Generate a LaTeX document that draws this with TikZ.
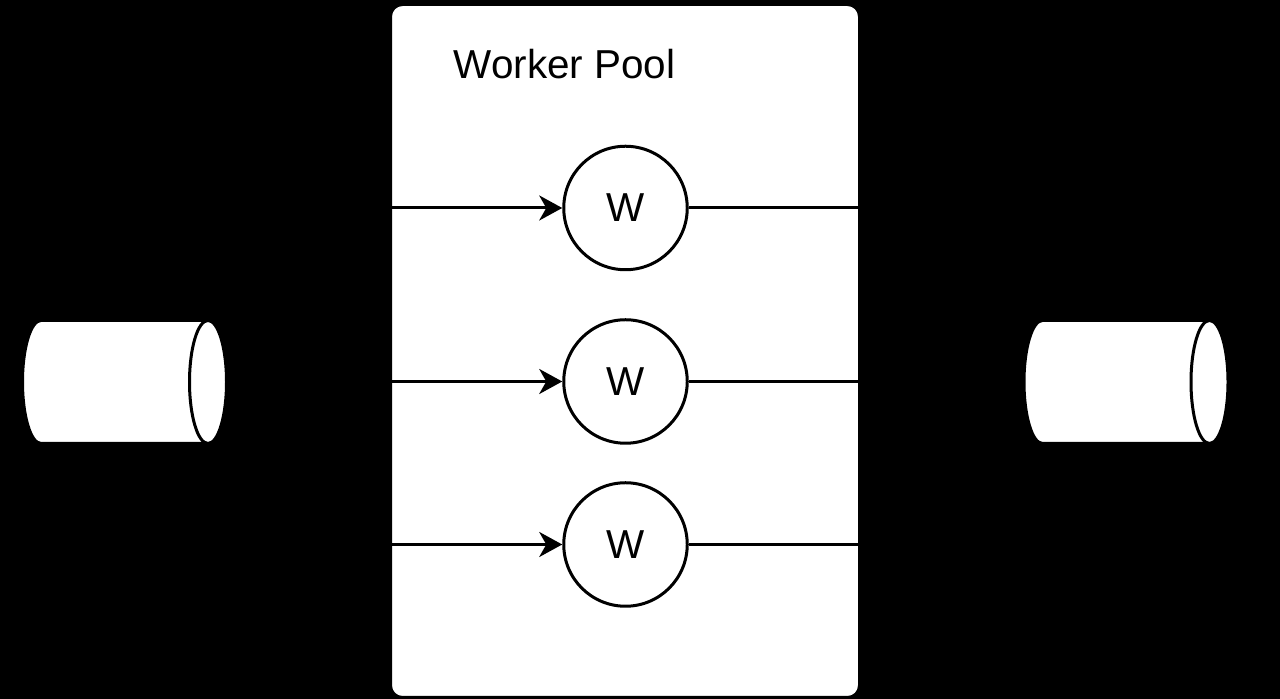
\documentclass[tikz,border=0pt]{standalone}
\usepackage{fontspec}
\setmainfont{Liberation Sans}
\usetikzlibrary{arrows.meta}

\begin{document}
\begin{tikzpicture}
      \tikzstyle{poolbox}=[draw=black, line width=0.06cm, fill=white, rounded corners=0.24cm, minimum width=9.38cm, minimum height=13.86cm, inner sep=0pt]
      \tikzstyle{worker}=[circle, draw=black, line width=0.06cm, fill=white, text=black, minimum size=2.47cm, inner sep=0pt, font=\fontsize{23}{28}\selectfont]
      \tikzstyle{tube}=[draw=black, line width=0.06cm, fill=white]
      \tikzstyle{flow}=[-{Stealth[length=0.46cm,width=0.5cm,inset=0.14cm]},line width=0.06cm]
      \tikzstyle{link}=[line width=0.06cm]

      \fill[black] (0,0) rectangle (25.6,13.98);
      \useasboundingbox (0,0) rectangle (25.6,13.98);

      % left queue
      \draw[tube] (0.82,7.57) -- (4.16,7.57) -- (4.16,5.11) -- (0.82,5.11) arc (270:90:0.37 and 1.23) -- cycle;
      \draw[tube] (4.16,6.34) ellipse (0.37 and 1.23);
      % right queue
      \draw[tube] (20.85,7.57) -- (24.19,7.57) -- (24.19,5.11) -- (20.85,5.11) arc (270:90:0.37 and 1.23) -- cycle;
      \draw[tube] (24.19,6.34) ellipse (0.37 and 1.23);

      \node[poolbox] (Pool) at (12.5,6.96) {};
      \node[text=black, font=\fontsize{23}{28}\selectfont] (Title) at (11.29,12.69) {Worker Pool};

      \node[worker] (W1) at (12.51,9.82) {W};
      \node[worker] (W2) at (12.51,6.35) {W};
      \node[worker] (W3) at (12.51,3.09) {W};

      \coordinate (In1) at (Pool.west |- W1);
      \coordinate (In2) at (Pool.west |- W2);
      \coordinate (In3) at (Pool.west |- W3);
      \coordinate (Out1) at (Pool.east |- W1);
      \coordinate (Out2) at (Pool.east |- W2);
      \coordinate (Out3) at (Pool.east |- W3);

      \draw[flow] (In1)--(W1);
      \draw[flow] (In2)--(W2);
      \draw[flow] (In3)--(W3);
      \draw[link] (W1)--(Out1);
      \draw[link] (W2)--(Out2);
      \draw[link] (W3)--(Out3);

    \end{tikzpicture}
\end{document}
